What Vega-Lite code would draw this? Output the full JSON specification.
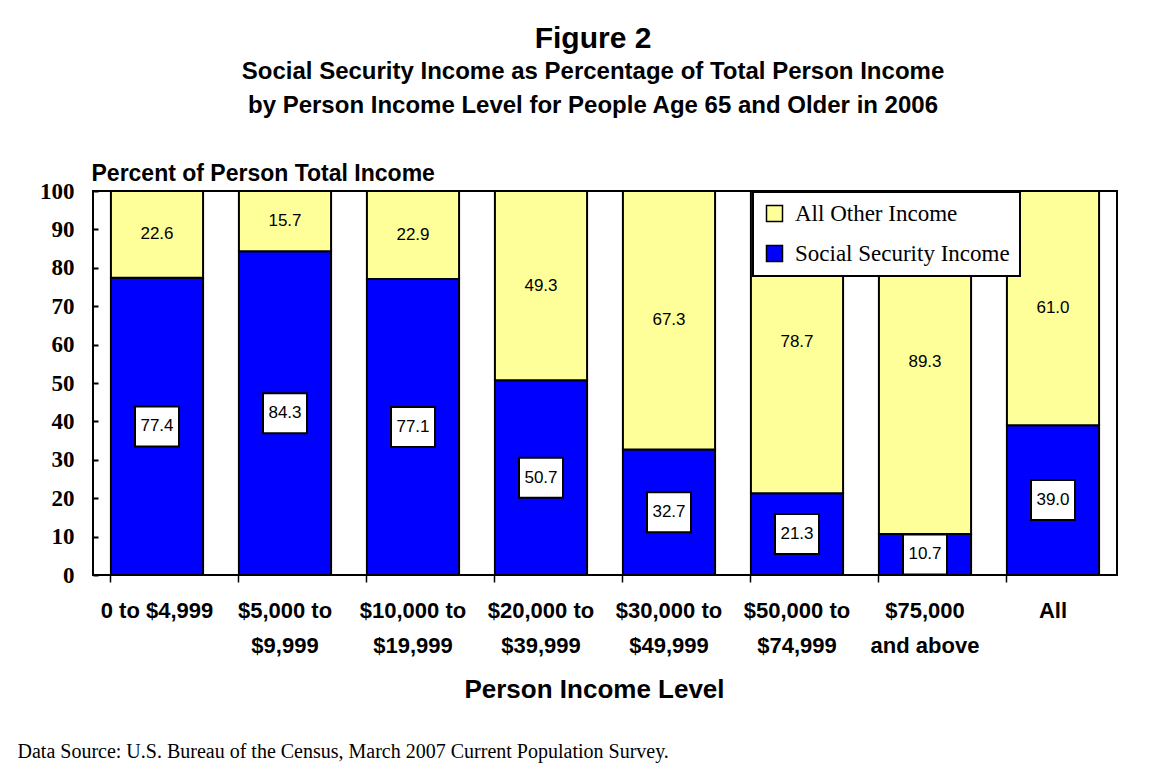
{
  "$schema": "https://vega.github.io/schema/vega-lite/v6.json",
  "width": 1024,
  "height": 384,
  "autosize": {"type": "none"},
  "padding": {"left": 93, "top": 191, "right": 58, "bottom": 190},
  "background": "white",
  "config": {
    "view": {"stroke": "black", "strokeWidth": 2},
    "font": "Liberation Sans",
    "legend": {"strokeWidth": 2}
  },
  "title": {
    "text": "Figure 2",
    "subtitle": ["Social Security Income as Percentage of Total Person Income", "by Person Income Level for People Age 65 and Older in 2006"],
    "font": "Liberation Sans",
    "fontSize": 30,
    "fontWeight": "bold",
    "color": "black",
    "subtitleFont": "Liberation Sans",
    "subtitleFontSize": 24,
    "subtitleFontWeight": "bold",
    "subtitleColor": "black",
    "subtitleLineHeight": 34,
    "subtitlePadding": 6,
    "anchor": "middle",
    "frame": "group",
    "dx": -12,
    "offset": 44
  },
  "data": {
    "values": [
      {"level": "0 to $4,999", "series": "Social Security Income", "pct": 77.4},
      {"level": "0 to $4,999", "series": "All Other Income", "pct": 22.6},
      {"level": "$5,000 to|$9,999", "series": "Social Security Income", "pct": 84.3},
      {"level": "$5,000 to|$9,999", "series": "All Other Income", "pct": 15.7},
      {"level": "$10,000 to|$19,999", "series": "Social Security Income", "pct": 77.1},
      {"level": "$10,000 to|$19,999", "series": "All Other Income", "pct": 22.9},
      {"level": "$20,000 to|$39,999", "series": "Social Security Income", "pct": 50.7},
      {"level": "$20,000 to|$39,999", "series": "All Other Income", "pct": 49.3},
      {"level": "$30,000 to|$49,999", "series": "Social Security Income", "pct": 32.7},
      {"level": "$30,000 to|$49,999", "series": "All Other Income", "pct": 67.3},
      {"level": "$50,000 to|$74,999", "series": "Social Security Income", "pct": 21.3},
      {"level": "$50,000 to|$74,999", "series": "All Other Income", "pct": 78.7},
      {"level": "$75,000|and above", "series": "Social Security Income", "pct": 10.7},
      {"level": "$75,000|and above", "series": "All Other Income", "pct": 89.3},
      {"level": "All", "series": "Social Security Income", "pct": 39.0},
      {"level": "All", "series": "All Other Income", "pct": 61.0}
    ]
  },
  "transform": [
    {"stack": "pct", "groupby": ["level"], "sort": [{"field": "series", "order": "descending"}], "as": ["y0", "y1"]},
    {"calculate": "(datum.y0 + datum.y1) / 2", "as": "mid"}
  ],
  "encoding": {
    "x": {
      "field": "level",
      "type": "nominal",
      "sort": null,
      "scale": {"paddingInner": 0.28, "paddingOuter": 0.14},
      "axis": {
        "labelExpr": "split(datum.value, '|')",
        "labelAngle": 0,
        "labelFont": "Liberation Sans",
        "labelFontSize": 22,
        "labelFontWeight": "bold",
        "labelColor": "black",
        "labelLineHeight": 35,
        "labelPadding": 18,
        "bandPosition": 0,
        "tickSize": 7,
        "tickColor": "black",
        "tickWidth": 1.5,
        "domain": false,
        "title": "Person Income Level",
        "titleFont": "Liberation Sans",
        "titleFontSize": 26,
        "titleFontWeight": "bold",
        "titleColor": "black",
        "titlePadding": 20,
        "titleX": 501,
        "titleAlign": "center"
      }
    }
  },
  "layer": [
    {
      "mark": {"type": "bar", "stroke": "black", "strokeWidth": 2},
      "encoding": {
        "y": {
          "field": "y1",
          "type": "quantitative",
          "scale": {"domain": [0, 100], "nice": false},
          "axis": {
            "values": [0, 10, 20, 30, 40, 50, 60, 70, 80, 90, 100],
            "labelFont": "Liberation Serif",
            "labelFontSize": 23,
            "labelFontWeight": "bold",
            "labelColor": "black",
            "labelPadding": 24,
            "ticks": true,
            "tickSize": -5,
            "tickColor": "black",
            "tickWidth": 2,
            "domain": false,
            "grid": false,
            "title": "Percent of Person Total Income",
            "titleFont": "Liberation Sans",
            "titleFontSize": 23,
            "titleFontWeight": "bold",
            "titleColor": "black",
            "titleAngle": 0,
            "titleAlign": "left",
            "titleBaseline": "alphabetic",
            "titleX": -2,
            "titleY": -11
          }
        },
        "y2": {"field": "y0"},
        "color": {
          "field": "series",
          "type": "nominal",
          "scale": {"domain": ["All Other Income", "Social Security Income"], "range": ["#FFFF99", "#0000FF"]},
          "legend": {
            "title": null,
            "orient": "none",
            "legendX": 660,
            "legendY": 1,
            "fillColor": "white",
            "strokeColor": "black",
            "padding": 10,
            "symbolType": "square",
            "symbolSize": 256,
            "symbolStrokeColor": "black",
            "symbolStrokeWidth": 1.5,
            "symbolOpacity": 1,
            "labelFont": "Liberation Serif",
            "labelFontSize": 23,
            "labelColor": "black",
            "labelOffset": 9,
            "rowPadding": 16,
            "labelLimit": 400
          }
        }
      }
    },
    {
      "transform": [{"filter": "datum.series == 'All Other Income'"}],
      "mark": {"type": "text", "font": "Liberation Sans", "fontSize": 17, "color": "black", "baseline": "middle"},
      "encoding": {
        "y": {
          "field": "mid",
          "type": "quantitative",
          "axis": {
            "orient": "right",
            "labels": false,
            "ticks": false,
            "domain": false,
            "grid": false,
            "title": "Data Source: U.S. Bureau of the Census, March 2007 Current Population Survey.",
            "titleFont": "Liberation Serif",
            "titleFontSize": 20,
            "titleFontWeight": "normal",
            "titleColor": "black",
            "titleAngle": 0,
            "titleAlign": "left",
            "titleBaseline": "alphabetic",
            "titleX": -1100,
            "titleY": 566
          }
        },
        "text": {"field": "pct", "type": "quantitative", "format": ".1f"}
      }
    },
    {
      "transform": [{"filter": "datum.series == 'Social Security Income'"}],
      "mark": {"type": "point", "shape": "M-1.1,-1H1.1V1H-1.1Z", "size": 1600, "filled": true, "fill": "white", "stroke": "black", "strokeWidth": 2, "opacity": 1},
      "encoding": {
        "y": {"field": "mid", "type": "quantitative", "axis": null}
      }
    },
    {
      "transform": [{"filter": "datum.series == 'Social Security Income'"}],
      "mark": {"type": "text", "font": "Liberation Sans", "fontSize": 17, "color": "black", "baseline": "middle"},
      "encoding": {
        "y": {"field": "mid", "type": "quantitative", "axis": null},
        "text": {"field": "pct", "type": "quantitative", "format": ".1f"}
      }
    }
  ],
  "resolve": {"axis": {"y": "independent"}}
}
